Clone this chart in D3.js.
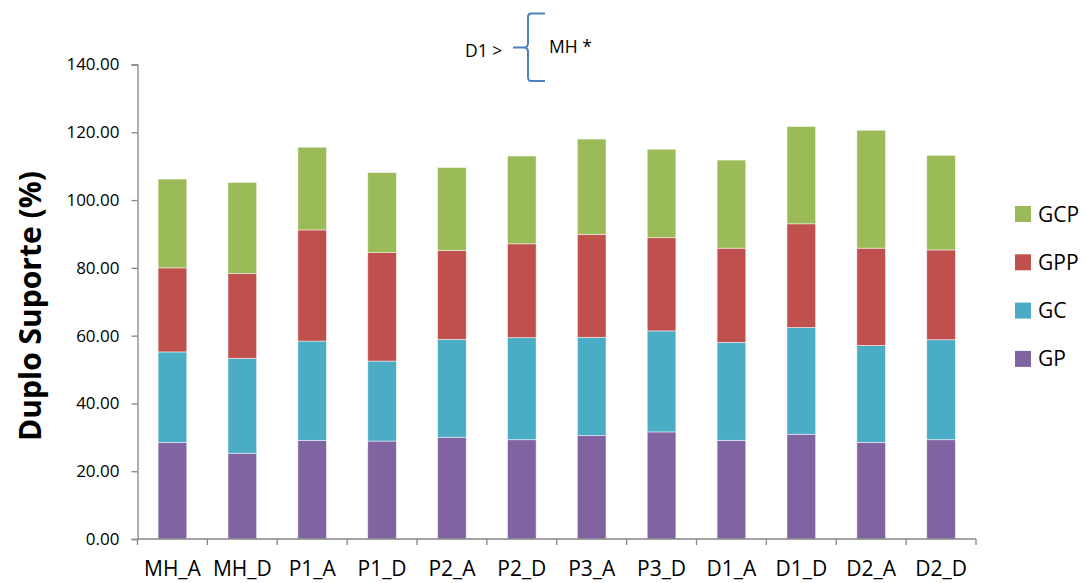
<!DOCTYPE html>
<html>
<head>
<meta charset="utf-8">
<script src="https://cdn.jsdelivr.net/npm/d3@7"></script>
<style>
  html, body { margin: 0; padding: 0; background: #fff; }
  svg { display: block; font-family: "Open Sans", "Liberation Sans", Arial, sans-serif; }
</style>
</head>
<body>
<svg id="chart" width="1085" height="583"></svg>
<script>
// Conditions on the x axis
const categories = ["MH_A", "MH_D", "P1_A", "P1_D", "P2_A", "P2_D", "P3_A", "P3_D", "D1_A", "D1_D", "D2_A", "D2_D"];

// Stacked components of double support (%), bottom to top
const GP  = [28.5, 25.3, 29.1, 28.9, 30.0, 29.3, 30.5, 31.6, 29.1, 30.9, 28.5, 29.3];
const GC  = [26.7, 28.0, 29.3, 23.6, 28.9, 30.1, 29.0, 29.8, 28.9, 31.5, 28.6, 29.5];
const GPP = [24.8, 25.0, 32.8, 32.0, 26.2, 27.7, 30.4, 27.5, 27.8, 30.6, 28.7, 26.5];
const GCP = [26.2, 26.9, 24.4, 23.6, 24.5, 25.9, 28.1, 26.1, 26.0, 28.7, 34.8, 27.9];

const seriesNames = ["GP", "GC", "GPP", "GCP"];
const seriesColors = ["#8064A2", "#4BACC6", "#C0504D", "#9BBB59"];
const yTicks = [0, 20, 40, 60, 80, 100, 120, 140];

const svg = d3.select("#chart");
const plot = { left: 137.5, right: 976, top: 64.5, bottom: 539 };

const rows = categories.map((c, i) => ({ cat: c, GP: GP[i], GC: GC[i], GPP: GPP[i], GCP: GCP[i] }));
const stacked = d3.stack().keys(seriesNames)(rows);

const x = d3.scaleBand().domain(categories).range([plot.left, plot.right]).padding(0);
const y = d3.scaleLinear().domain([0, 140]).range([plot.bottom, plot.top]);
const color = d3.scaleOrdinal().domain(seriesNames).range(seriesColors);
const barW = x.bandwidth() * 0.41;

// Bars
svg.append("g").selectAll("g")
  .data(stacked)
  .join("g")
    .attr("fill", d => color(d.key))
  .selectAll("rect")
  .data(d => d)
  .join("rect")
    .attr("x", d => x(d.data.cat) + (x.bandwidth() - barW) / 2)
    .attr("y", d => y(d[1]))
    .attr("width", barW)
    .attr("height", d => y(d[0]) - y(d[1]))
    .attr("stroke", "rgba(255,255,255,0.6)")
    .attr("stroke-width", 0.8);

// Y axis
const yAxis = svg.append("g")
  .attr("transform", `translate(${plot.left},0)`)
  .call(d3.axisLeft(y).tickValues(yTicks).tickFormat(d3.format(".2f")).tickSize(6).tickPadding(12));
yAxis.select(".domain").attr("stroke", "#868686").attr("stroke-width", 1.3);
yAxis.selectAll(".tick line").attr("stroke", "#868686").attr("stroke-width", 1.3);
yAxis.selectAll("text").attr("font-size", 17).attr("fill", "#000")
  .attr("font-family", "'Open Sans', sans-serif");

// X axis: ticks on category boundaries
const xAxisG = svg.append("g").attr("transform", `translate(0,${plot.bottom})`);
xAxisG.append("line")
  .attr("x1", plot.left).attr("x2", plot.right)
  .attr("stroke", "#868686").attr("stroke-width", 1.3);
const bounds = categories.map(c => x(c)).concat([x(categories[categories.length - 1]) + x.bandwidth()]);
xAxisG.selectAll("line.tk").data(bounds).join("line")
  .attr("class", "tk")
  .attr("x1", d => d).attr("x2", d => d)
  .attr("y1", 0).attr("y2", 6)
  .attr("stroke", "#868686").attr("stroke-width", 1.3);
xAxisG.selectAll("text").data(categories).join("text")
  .attr("x", d => x(d) + x.bandwidth() / 2)
  .attr("y", 37)
  .attr("text-anchor", "middle")
  .attr("font-size", 21)
  .attr("fill", "#000")
  .text(d => d);

// Y axis title
svg.append("text")
  .attr("transform", "translate(41,306) rotate(-90)")
  .attr("text-anchor", "middle")
  .attr("font-size", 30)
  .attr("font-weight", "bold")
  .attr("fill", "#000")
  .text("Duplo Suporte (%)");

// Legend (top entry is the top of the stack)
const legendOrder = seriesNames.slice().reverse();
const legend = svg.append("g");
const lg = legend.selectAll("g").data(legendOrder).join("g")
  .attr("transform", (d, i) => `translate(1015,${206 + i * 48.3})`);
lg.append("rect").attr("width", 16).attr("height", 16).attr("fill", d => color(d));
lg.append("text").attr("x", 23).attr("y", 15.5)
  .attr("font-size", 21).attr("fill", "#000").text(d => d);

// Annotation: D1 > { MH *
const note = svg.append("g");
note.append("text").attr("x", 465).attr("y", 57).attr("font-size", 17.5).attr("fill", "#000").text("D1 >");
note.append("text").attr("x", 549).attr("y", 53).attr("font-size", 17.5).attr("fill", "#000").text("MH *");
note.append("path")
  .attr("d", "M545,13.5 L531,13.5 Q528,13.5 528,17 L528,43 Q528,47.5 524,47.5 L513,47.5 M524,47.5 Q528,47.5 528,52 L528,77 Q528,81 531,81 L545,81")
  .attr("fill", "none")
  .attr("stroke", "#4F81BD")
  .attr("stroke-width", 2);
</script>
</body>
</html>
